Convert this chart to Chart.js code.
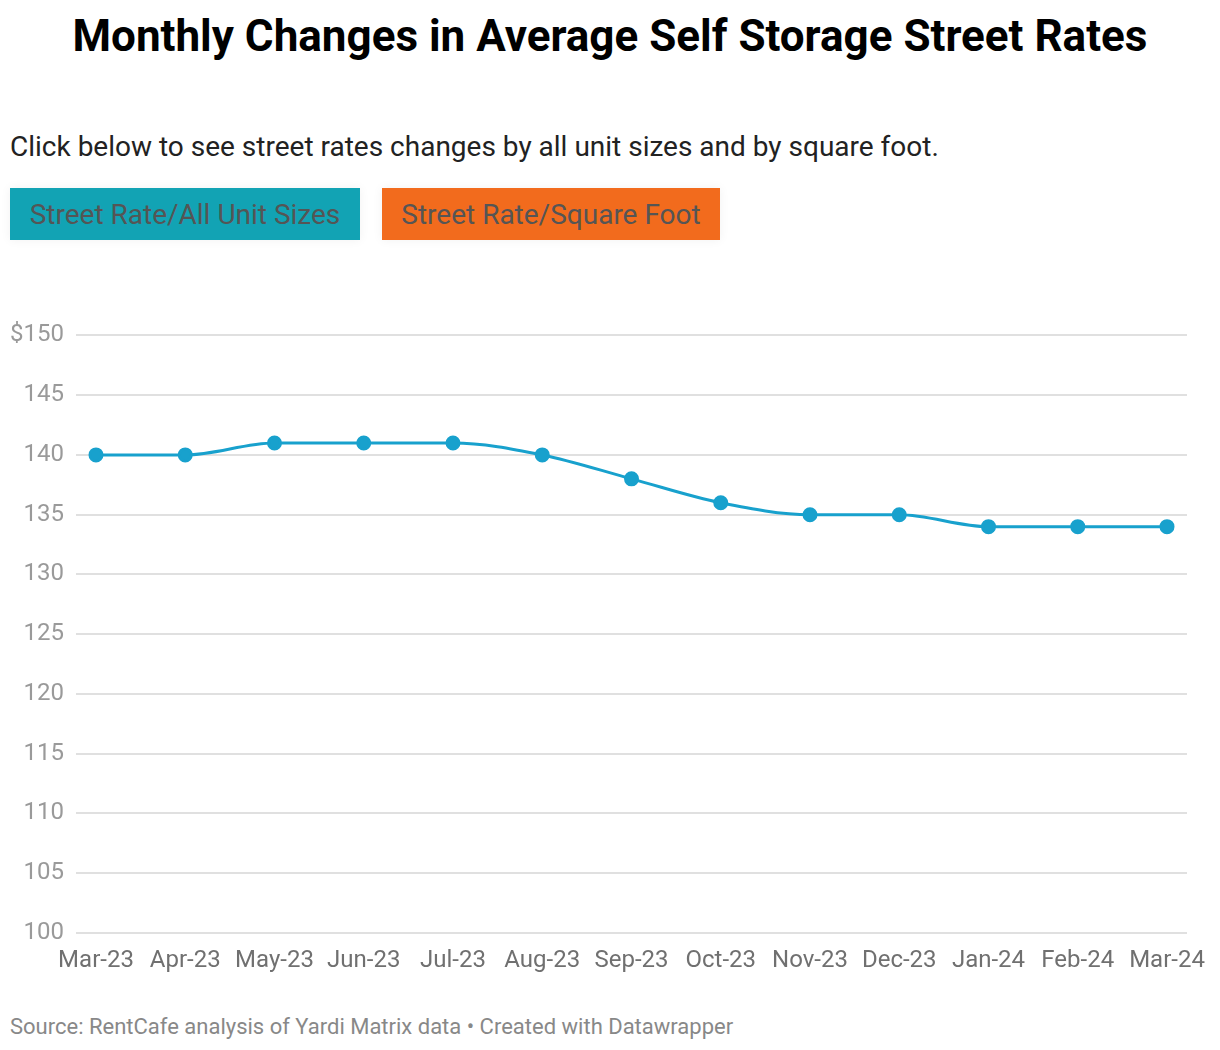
<!DOCTYPE html>
<html>
<head>
<meta charset="utf-8">
<script src="https://cdn.jsdelivr.net/npm/chart.js@4"></script>
<style>
  body { margin: 0; background: #fff; font-family: Roboto, sans-serif; width: 1220px; height: 1050px; position: relative; }
  h1 { position: absolute; top: 8px; left: 0; width: 1220px; margin: 0; text-align: center; font-size: 44px; line-height: 56px; font-weight: 700; color: #000; }
  .sub { position: absolute; top: 130px; left: 10px; font-size: 28px; line-height: 34px; color: #222; }
  .btn { position: absolute; top: 188px; height: 52px; line-height: 54px; font-size: 28px; color: #555; text-align: center; box-shadow: 0 0 10px rgba(0,0,0,0.06); }
  .b1 { left: 10px; width: 350px; background: #12a3b4; }
  .b2 { left: 382px; width: 338px; background: #f26b1d; }
  #wrap { position: absolute; left: 0; top: 309px; width: 1220px; height: 675px; }
  .foot { position: absolute; top: 1013px; left: 10px; font-size: 22px; line-height: 28px; color: #888; }
</style>
</head>
<body>
<h1>Monthly Changes in Average Self Storage Street Rates</h1>
<div class="sub">Click below to see street rates changes by all unit sizes and by square foot.</div>
<div class="btn b1">Street Rate/All Unit Sizes</div>
<div class="btn b2">Street Rate/Square Foot</div>
<div id="wrap"><canvas id="rateChart"></canvas></div>
<div class="foot">Source: RentCafe analysis of Yardi Matrix data • Created with Datawrapper</div>
<script>
// STREET RATE DATA
const months = ["Mar-23", "Apr-23", "May-23", "Jun-23", "Jul-23", "Aug-23", "Sep-23", "Oct-23", "Nov-23", "Dec-23", "Jan-24", "Feb-24", "Mar-24"];
const streetRates = [140, 140, 141, 141, 141, 140, 138, 136, 135, 135, 134, 134, 134];
const yTicks = [100, 105, 110, 115, 120, 125, 130, 135, 140, 145, 150];

const renderRateChart = () => {
  return new Chart(document.getElementById("rateChart"), {
    type: 'line',
    data: {
      datasets: [{
        label: 'Street Rate',
        data: streetRates.map((v, i) => ({ x: i, y: v })),
        borderColor: '#18a1cd',
        backgroundColor: '#18a1cd',
        borderWidth: 3,
        pointRadius: 6,
        pointHoverRadius: 6,
        cubicInterpolationMode: 'monotone'
      }]
    },
    options: {
      responsive: true,
      maintainAspectRatio: false,
      animation: false,
      layout: { padding: { top: 24, right: 33, left: 0, bottom: 0 } },
      plugins: {
        legend: { display: false },
        tooltip: { enabled: false }
      },
      scales: {
        x: {
          type: 'linear',
          min: -0.224,
          max: 12.224,
          afterBuildTicks: (scale) => { scale.ticks = months.map((m, i) => ({ value: i })); },
          afterFit: (scale) => { scale.height = 51; },
          grid: { display: false, drawTicks: false },
          border: { display: false },
          ticks: {
            padding: 14,
            color: '#707070',
            font: { family: 'Roboto', size: 24 },
            maxRotation: 0,
            autoSkip: false,
            callback: (v) => months[v]
          }
        },
        y: {
          min: 100,
          max: 150,
          afterBuildTicks: (scale) => { scale.ticks = yTicks.map(v => ({ value: v })); },
          afterFit: (scale) => { scale.width = 76; },
          grid: { color: '#e0e0e0', lineWidth: 2, drawTicks: false },
          border: { display: false },
          ticks: {
            padding: 12,
            color: '#9a9a9a',
            font: { family: 'Roboto', size: 24 },
            callback: (v) => v === 150 ? '$150' : v
          }
        }
      }
    }
  });
};

renderRateChart();
</script>
</body>
</html>
